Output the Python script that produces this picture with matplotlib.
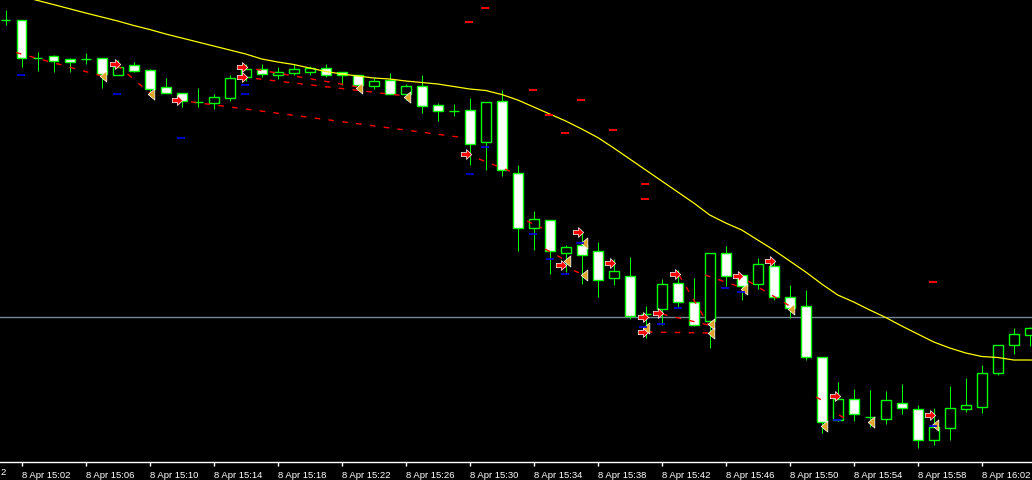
import numpy as np
import matplotlib
matplotlib.use('Agg')
import matplotlib.pyplot as plt
from matplotlib.patches import Rectangle
from matplotlib.path import Path

#==========================  Data  ====================================================================================
# price axis has no scale on the screenshot, so levels are in chart rows (0 = top, bigger = lower price)
bar_minute = list(range(1, 66))   # minutes after 8 Apr 15:00
open_ = [21.3, 21, 58.5, 57, 60, 60, 59.3, 76.3, 66.3, 71, 88.3, 94.3, 103.3, 103.7, 99.3, 77.7, 70.3, 76.3,
         74.3, 73.3, 69.3, 73.3, 76.3, 87.3, 81.3, 95.3, 87.3, 106.3, 111.7, 111.3, 142.7, 102.3, 174.3, 228.7,
         221.3, 253.5, 246.3, 252.3, 278.7, 277.3, 314.7, 310.3, 284.3, 303.3, 322.3, 254.3, 276.3, 285.3, 267.3,
         298.3, 307.3, 358.3, 420.7, 400.3, 417.7, 420.3, 404.3, 410.3, 441.3, 429.3, 410.3, 408.3, 374.3, 346.3,
         336.3]
high = [11, 21, 53, 56, 59, 54, 59.3, 61, 63.3, 70, 79, 94.3, 89, 95, 76, 65, 65, 68.3,
        65, 67.3, 65, 73.3, 76.3, 78.3, 74.3, 85, 76, 104.3, 105, 99, 103.3, 91, 166, 212.3,
        221.3, 246, 233.3, 243.3, 260.3, 258.3, 307.3, 280.3, 271.3, 279.3, 254.3, 247.3, 276.3, 259.3, 261.3,
        286.3, 291.3, 358.3, 383, 390, 391, 392, 385, 406.3, 409.3, 387.3, 379.3, 366.3, 346.3, 329.3,
        328.3]
low = [26, 68, 72, 72.7, 72.7, 65, 88.7, 76.3, 72.7, 97, 94.3, 107.7, 107.7, 109.7, 101.7, 81.7, 77.7, 79.7,
       76.3, 75.7, 78.3, 85.7, 90, 90.3, 95.3, 100.7, 113.7, 121.7, 116.7, 165.7, 170.7, 176.7, 251.7, 250.7,
       274.7, 272.7, 284.7, 297.7, 285.7, 319.7, 338.7, 325.7, 308.3, 326.7, 349.3, 287.3, 300.7, 290.3, 301.3,
       319.3, 361.3, 434.3, 421.7, 422.3, 428.3, 425.3, 415.3, 449, 446.3, 441.3, 413.3, 414.3, 376.3, 355.3,
       347.3]
close = [21.3, 58.7, 58.5, 61.7, 62.7, 60, 74.7, 68.3, 71.7, 89.7, 94.3, 102.3, 103.3, 98, 79, 70.3, 75.3, 73.3,
         70.3, 69.3, 76.3, 76.3, 86.3, 82.3, 95.3, 87.3, 107.3, 112.3, 111.7, 145.3, 103.3, 171.3, 228.7, 220.3,
         251.7, 248.3, 255.5, 280.7, 272.3, 316.7, 314.7, 285.3, 303.3, 325.7, 254.3, 277.3, 287.3, 265.3, 298.3,
         309.3, 358.3, 423.3, 400.3, 415.3, 417.7, 401.3, 409.3, 441.3, 428.3, 409.3, 406.3, 374.3, 346.3, 335.3,
         329.3]

# moving average, one value per minute 15:01 .. 16:06
ma_minute = list(range(1, 67))
ma = [-7, -2.7, 1.5, 5.6, 9.8, 14, 18, 22, 26.5, 30.5, 35, 39, 43, 47, 51, 55, 60, 63, 65.5, 69, 72.5, 75, 77,
      79, 80, 82, 83.5, 85, 87.5, 90, 91.5, 95.5, 101, 108, 115, 122, 130, 138.5, 149, 160, 171, 182, 193, 204,
      216, 224, 231, 241, 251, 262, 273, 285, 296, 303, 311, 318.5, 327, 335, 343, 349, 354, 357.5, 358.5, 361,
      361, 361.5]

bid_level = 318.3

# trade history lines (open time/level -> close time/level)
trade_open_t = [1.64, 7.96, 11.71, 15.78, 15.78, 29.77, 33.58, 34.71, 35.71, 42.02, 41.08, 43.08, 44.71, 47.4, 51.64, 53.08]
trade_open_p = [53.5, 66, 101, 68, 78, 155, 222, 250, 266, 315, 333, 276, 276, 282, 398, 416]
trade_close_t = [7.02, 10.08, 29.77, 23.02, 26.02, 32.65, 34.52, 36.08, 37.14, 44.9, 45.02, 44.9, 46.9, 50.0, 52.2, 53.52]
trade_close_p = [77, 95, 139, 88, 97, 173, 229, 262, 276, 326, 334, 325, 288, 307, 403, 420]

# entry arrows
arrow_t = [7.84, 11.71, 15.77, 15.77, 29.77, 35.71, 36.77, 38.77, 40.83, 40.83, 41.77, 42.83, 46.77, 48.77, 52.83, 58.77]
arrow_p = [65, 101, 68, 78, 155, 266, 233, 264, 318, 333, 314, 275, 277, 262, 397, 416]
# close markers
close_mark_t = [7.08, 10.08, 23.08, 26.08, 36.08, 37.14, 37.14, 41.02, 45.08, 45.08, 47.14, 50.08, 52.14, 55.08, 59.08]
close_mark_p = [77, 95, 89, 98, 262, 244, 276, 329, 325, 334, 290, 310, 427, 423, 426]
# short blue and red level marks
blue_t = [1.96, 7.96, 11.96, 15.96, 15.96, 30.96, 30.02, 33.96, 35.02, 35.96, 36.9, 40.83, 41.96, 43.02, 45.96, 46.96, 52.96, 58.96]
blue_p = [76, 95, 139, 86, 95, 148, 175, 235, 260, 275, 244, 328, 325, 309, 289, 293, 421, 427]
red_t = [30.96, 29.96, 33.96, 36.96, 34.96, 35.96, 38.96, 40.96, 40.96, 58.96]
red_p = [9, 23, 91, 101, 116, 134, 131, 185, 200, 283]

tick_minutes = [2, 6, 10, 14, 18, 22, 26, 30, 34, 38, 42, 46, 50, 54, 58, 62]
tick_labels = ['8 Apr 15:02', '8 Apr 15:06', '8 Apr 15:10', '8 Apr 15:14', '8 Apr 15:18', '8 Apr 15:22',
               '8 Apr 15:26', '8 Apr 15:30', '8 Apr 15:34', '8 Apr 15:38', '8 Apr 15:42', '8 Apr 15:46',
               '8 Apr 15:50', '8 Apr 15:54', '8 Apr 15:58', '8 Apr 16:02']

#=======================================================================================================================

px = 0.72  # one pixel in points at 100 dpi
fig = plt.figure(figsize=(10.32, 4.81), dpi=100, facecolor='black')
ax = fig.add_axes([0, 18 / 481, 1, 463 / 481])
ax.set_facecolor('black')
ax.set_xlim(0.644, 65.14)
ax.set_ylim(463, 0)

# candles
body_w = 0.6
ax.vlines(bar_minute, high, low, colors='#00ff00', lw=px, zorder=2)
for m, o, c in zip(bar_minute, open_, close):
    fill = 'white' if c > o else 'black'   # rows grow downward: c > o means a falling bar
    top = min(o, c)
    ax.add_patch(Rectangle((m - body_w / 2, top), body_w, abs(c - o), facecolor=fill,
                           edgecolor='#00ff00', lw=1.0, zorder=3))

# moving average and bid line
ax.plot(ma_minute, ma, color='#ffff00', lw=0.9, zorder=4)
ax.axhline(bid_level, color='#778899', lw=1.0, zorder=1)

# trade lines
for t0, p0, t1, p1 in zip(trade_open_t, trade_open_p, trade_close_t, trade_close_p):
    ax.plot([t0, t1], [p0, p1], color='#ff0000', lw=1.0, linestyle=(0, (4, 6)), zorder=5)

# markers
arrow_path = Path([(-1, -0.4), (0.0, -0.4), (0.0, -0.95), (1, 0), (0.0, 0.95), (0.0, 0.4), (-1, 0.4), (-1, -0.4)])
tri_path = Path([(-0.6, 0), (0.6, 1), (0.6, -1), (-0.6, 0)])
ax.plot(arrow_t, arrow_p, ls='none', marker=arrow_path, ms=7.5, mfc='#ff0000', mec='white', mew=0.5, zorder=6)
ax.plot(close_mark_t, close_mark_p, ls='none', marker=tri_path, ms=8, mfc='#e0a428', mec='white', mew=0.5, zorder=6)
ax.plot(blue_t, blue_p, ls='none', marker='_', ms=5.2, mec='#0000e6', mew=1.2, zorder=6)
ax.plot(red_t, red_p, ls='none', marker='_', ms=5.2, mec='#ff0000', mew=1.4, zorder=6)

# axes styling
for side in ['top', 'left', 'right']:
    ax.spines[side].set_visible(False)
ax.spines['bottom'].set_color('white')
ax.spines['bottom'].set_linewidth(1.0)
ax.set_yticks([])
ax.set_xticks(tick_minutes)
ax.set_xticklabels(tick_labels, fontsize=6.8, family='Liberation Sans', color='white')
for lab in ax.get_xticklabels():
    lab.set_horizontalalignment('left')
ax.tick_params(axis='x', colors='white', length=3, width=1.0, pad=3, direction='out')
fig.text(0.0005, 1 - 473 / 481, '2', fontsize=6.8, family='Liberation Sans', color='white', ha='left', va='center')

plt.savefig('out.png', dpi=100, facecolor='black')
